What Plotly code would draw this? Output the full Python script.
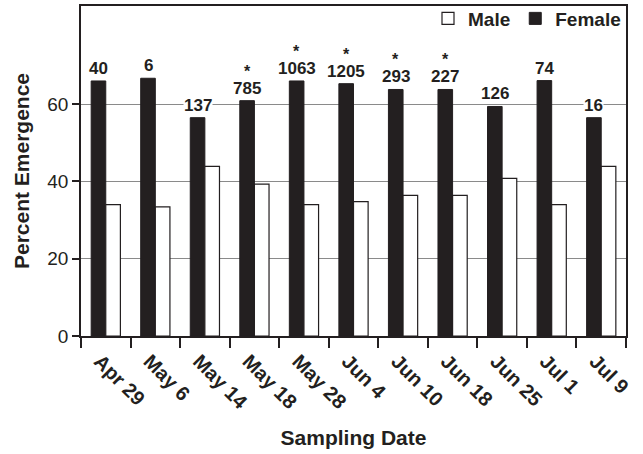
import plotly.graph_objects as go

dates = ["Apr 29", "May 6", "May 14", "May 18", "May 28", "Jun 4",
         "Jun 10", "Jun 18", "Jun 25", "Jul 1", "Jul 9"]
female = [66.0, 66.7, 56.5, 60.9, 66.0, 65.3, 63.8, 63.8, 59.4, 66.1, 56.5]
male = [34.0, 33.4, 43.9, 39.3, 34.0, 34.8, 36.4, 36.4, 40.8, 34.0, 43.9]
counts = ["40", "6", "137", "785", "1063", "1205", "293", "227", "126", "74", "16"]
signif = [False, False, False, True, True, True, True, True, False, False, False]

FONT = "Liberation Sans, Arial, sans-serif"
BLACK = "#231f20"

fig = go.Figure()
fig.add_trace(go.Bar(x=dates, y=female, name="<b>Female</b>",
                     marker=dict(color=BLACK, line=dict(color=BLACK, width=1))))
fig.add_trace(go.Bar(x=dates, y=male, name="<b>Male</b>",
                     marker=dict(color="white", line=dict(color=BLACK, width=1.2))))

bargap = 0.41
cat_px = (626 - 81) / len(dates)
shift = -cat_px * (1 - bargap) / 4

for d, f, c, s in zip(dates, female, counts, signif):
    fig.add_annotation(x=d, y=f, text="<b>" + c + "</b>", showarrow=False,
                       xref="x", yref="y", xshift=shift, yshift=2,
                       yanchor="bottom", bgcolor="white", borderpad=0,
                       font=dict(family=FONT, size=17, color=BLACK))
    if s:
        fig.add_annotation(x=d, y=f, text="<b>*</b>", showarrow=False,
                           xref="x", yref="y", xshift=shift, yshift=20,
                           yanchor="bottom", borderpad=0,
                           font=dict(family=FONT, size=16, color=BLACK))

fig.update_layout(
    width=643, height=454,
    margin=dict(l=81, r=17, t=6, b=118, autoexpand=False),
    paper_bgcolor="white", plot_bgcolor="white",
    barmode="group", bargap=bargap, bargroupgap=0,
    font=dict(family=FONT, color=BLACK),
    showlegend=True,
    legend=dict(orientation="h", traceorder="reversed",
                x=1, xanchor="right", y=0.962, yanchor="middle",
                font=dict(family=FONT, size=19, color=BLACK),
                bgcolor="rgba(0,0,0,0)", itemwidth=30,
                itemclick=False),
)

fig.update_xaxes(
    type="category", tickson="boundaries", ticks="outside", ticklen=10,
    tickwidth=1.5, tickcolor=BLACK, tickangle=45,
    ticklabelshift=-6, ticklabelstandoff=4,
    showline=True, linecolor=BLACK, linewidth=1.5, mirror=True,
    showgrid=False,
    tickfont=dict(family=FONT, size=20, color=BLACK),
    tickprefix="<b>", ticksuffix="</b>",
    title=dict(text="<b>Sampling Date</b>", font=dict(family=FONT, size=21, color=BLACK),
               standoff=18),
)
fig.update_yaxes(
    range=[0, 85.4], tickvals=[0, 20, 40, 60], ticks="outside", ticklen=7,
    tickwidth=1.5, tickcolor=BLACK,
    showline=True, linecolor=BLACK, linewidth=1.5, mirror=True,
    showgrid=True, gridcolor="#8a8a8a", gridwidth=1, zeroline=False,
    tickfont=dict(family=FONT, size=19, color=BLACK),
    tickprefix="<b>", ticksuffix="</b>",
    title=dict(text="<b>Percent Emergence</b>", font=dict(family=FONT, size=21, color=BLACK),
               standoff=12),
)

fig.write_html("out.html")
